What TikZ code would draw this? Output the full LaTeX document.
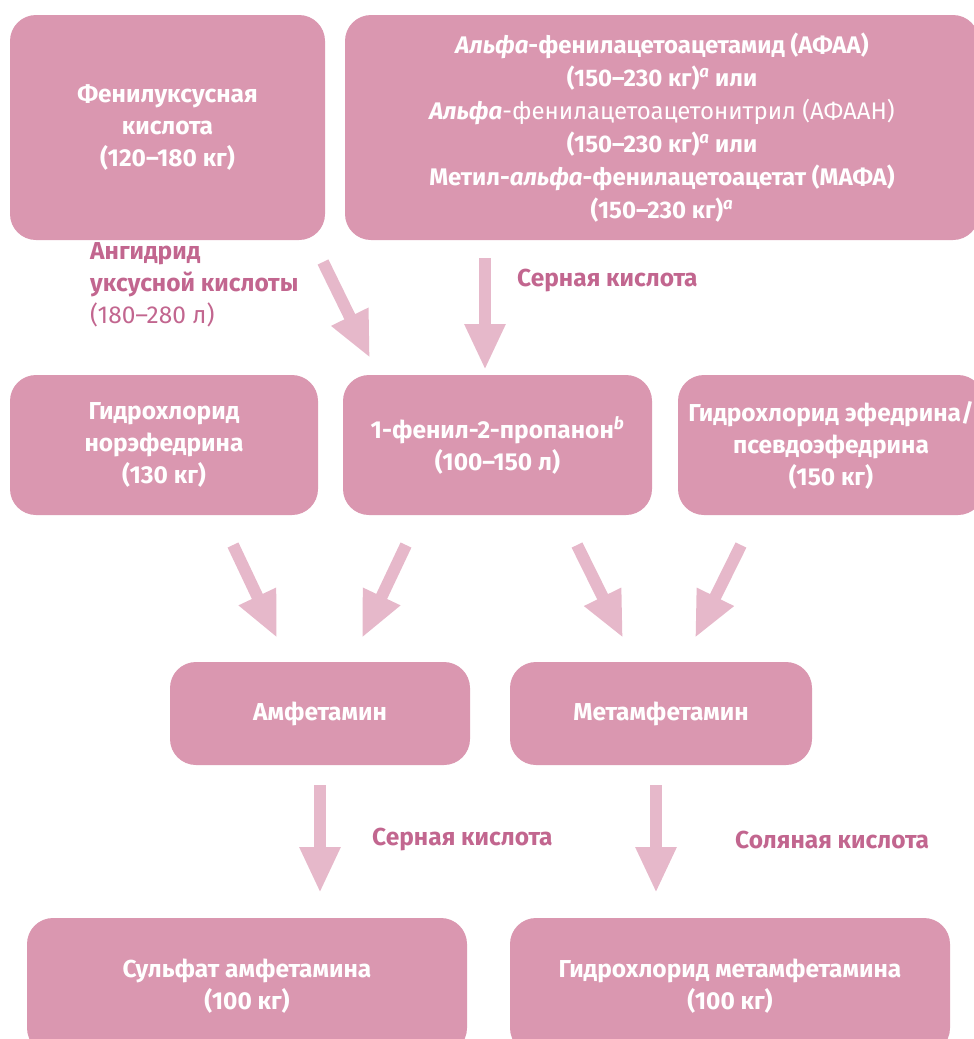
\documentclass[tikz,border=0pt]{standalone}
\usepackage{fontspec}
\setmainfont{Fira Sans}
\usetikzlibrary{arrows.meta}
\definecolor{boxc}{HTML}{DA97B0}
\definecolor{arrowc}{HTML}{E6B8CA}
\definecolor{labc}{HTML}{C2668F}
\tikzset{
  box/.style={fill=boxc, rounded corners=26pt, text=white, align=center,
    font=\fontsize{24.5}{32}\selectfont\bfseries, inner sep=0pt},
  lab/.style={text=labc, font=\fontsize{24.5}{32}\selectfont\bfseries, inner sep=0pt},
  bigarrow/.style={draw=arrowc, line width=12pt, -{Triangle[length=46pt,width=38pt]}},
}
\begin{document}
\begin{tikzpicture}[x=1pt,y=-1pt]
\useasboundingbox (0,0) rectangle (974,1039);
\clip (0,0) rectangle (974,1039);
% top row
\node[box, minimum width=315pt, minimum height=225pt] (phen) at (167.5,127.5)
  {Фенилуксусная\\кислота\\(120–180 кг)};
\node[box, minimum width=634pt, minimum height=225pt, font=\fontsize{24}{33}\selectfont\bfseries] (apaa) at (662,127.5)
  {\textit{Альфа}-фенилацетоацетамид (АФАА)\\
   (150–230 кг)\textsuperscript{\textit{a}} или\\
   \textit{Альфа}\mdseries-фенилацетоацетонитрил (АФААН)\\
   (150–230 кг)\textsuperscript{\textit{a}} или\\
   Метил-\textit{альфа}-фенилацетоацетат (МАФА)\\
   (150–230 кг)\textsuperscript{\textit{a}}};
% second row
\node[box, minimum width=308pt, minimum height=140pt] (nor) at (164,445)
  {Гидрохлорид\\норэфедрина\\(130 кг)};
\node[box, minimum width=309pt, minimum height=140pt] (p2p) at (497.5,445)
  {1-фенил-2-пропанон\textsuperscript{\textit{b}}\\(100–150 л)};
\node[box, minimum width=306pt, minimum height=140pt] (eph) at (831,445)
  {Гидрохлорид эфедрина/\\псевдоэфедрина\\(150 кг)};
% third row
\node[box, minimum width=300pt, minimum height=103pt] (amph) at (320,713.5) {Амфетамин};
\node[box, minimum width=302pt, minimum height=103pt] (meth) at (661,713.5) {Метамфетамин};
% fourth row
\node[box, minimum width=440pt, minimum height=136pt] (sulf) at (247,986)
  {Сульфат амфетамина\\(100 кг)};
\node[box, minimum width=440pt, minimum height=136pt] (hcl) at (730,986)
  {Гидрохлорид метамфетамина\\(100 кг)};
% labels
\node[lab, anchor=west, align=left] (anh) at (90,285)
  {Ангидрид\\уксусной кислоты\\\mdseries(180–280 л)};
\node[lab, anchor=west] (sulf1) at (517,281) {Серная кислота};
\node[lab, anchor=west] (sulf2) at (372,840) {Серная кислота};
\node[lab, anchor=west] (hclacid) at (735,840) {Соляная кислота};
% arrow coordinates
\coordinate (a1s) at (323,262); \coordinate (a1e) at (370,358);
\coordinate (a2s) at (485,258); \coordinate (a2e) at (485,370);
\coordinate (b1s) at (233,545); \coordinate (b1e) at (277,638);
\coordinate (b2s) at (406,545); \coordinate (b2e) at (362,638);
\coordinate (b3s) at (577,545); \coordinate (b3e) at (623,638);
\coordinate (b4s) at (741,545); \coordinate (b4e) at (695,638);
\coordinate (c1s) at (320,785); \coordinate (c1e) at (320,893);
\coordinate (c2s) at (656,785); \coordinate (c2e) at (656,893);
\draw[bigarrow] (a1s) -- (a1e);
\draw[bigarrow] (a2s) -- (a2e);
\draw[bigarrow] (b1s) -- (b1e);
\draw[bigarrow] (b2s) -- (b2e);
\draw[bigarrow] (b3s) -- (b3e);
\draw[bigarrow] (b4s) -- (b4e);
\draw[bigarrow] (c1s) -- (c1e);
\draw[bigarrow] (c2s) -- (c2e);
\end{tikzpicture}
\end{document}
